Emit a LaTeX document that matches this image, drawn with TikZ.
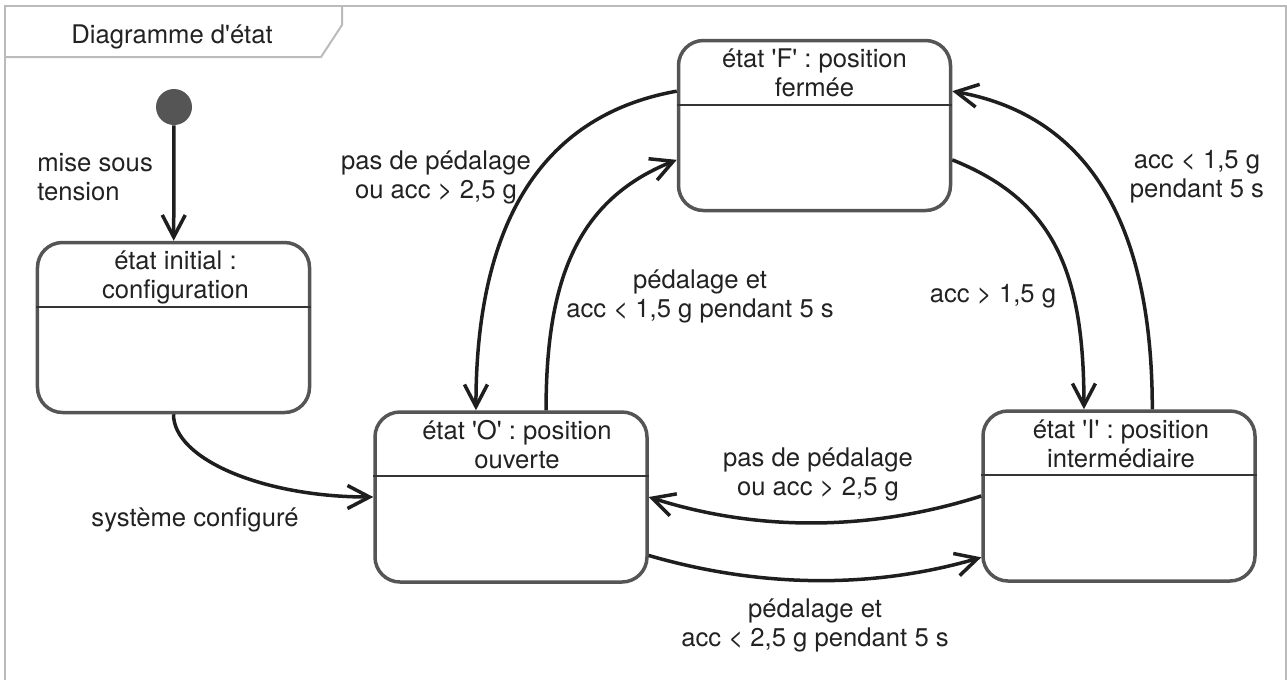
\documentclass[tikz,border=0pt]{standalone}
\usepackage{fontspec}
\setmainfont{TeX Gyre Heros}
\usepackage{tikz}
\usetikzlibrary{arrows.meta,calc}

\definecolor{bordgris}{HTML}{555555}
\definecolor{cadregris}{HTML}{BBBBBB}
\definecolor{trait}{HTML}{1E1E1E}
\definecolor{texte}{HTML}{222222}

\newcommand{\q}{\textquotesingle}

\begin{document}
\begin{tikzpicture}[x=0.2mm,y=-0.2mm,
    every node/.style={font=\fontsize{14.6}{16.5}\selectfont, text=texte},
    etat/.style={draw=bordgris, line width=0.7mm, rounded corners=5mm,
                 minimum width=54.4mm, minimum height=34mm, inner sep=0pt},
    titre/.style={anchor=north, align=center, inner sep=0pt},
    garde/.style={align=center, inner sep=0pt},
    separation/.style={draw=trait!90, line width=0.45mm},
    transition/.style={draw=trait, line width=0.7mm,
                       -{Straight Barb[length=4.4mm,width=4.6mm]}}]

            \useasboundingbox (0,0) rectangle (1287,680);

            % Frame and its tab
            \draw[cadregris, line width=0.4mm] (5,680) -- (5,6) -- (1286,6) -- (1286,680);
            \draw[cadregris, line width=0.4mm] (5,57) -- (321,57) -- (342,25) -- (342,6);
            \node (cadre-titre) at (172,37) {Diagramme d\q état};

            % States
            \node[etat] (init) at (173.5,327.5) {};
            \node[etat] (O) at (511,497) {};
            \node[etat] (I) at (1119,496) {};
            \node[etat] (F) at (814.5,125.5) {};

            % State names
            \node[titre] (init-titre) at ($(init.north)+(2,10)$) {état initial :\\configuration};
            \node[titre] (O-titre) at ($(O.north)+(6,10)$) {état \q O\q{} : position\\ouverte};
            \node[titre] (I-titre) at ($(I.north)+(2,10)$) {état \q I\q{} : position\\intermédiaire};
            \node[titre] (F-titre) at ($(F.north)+(0,10)$) {état \q F\q{} : position\\fermée};

            % Dividers
            \foreach \s in {init,O,I,F}
                \draw[separation] ($(\s.north west)+(0,66)$) -- ($(\s.north east)+(0,66)$);

            % Initial pseudo-state
            \node[circle, fill=bordgris, minimum size=7.2mm, inner sep=0pt] (depart) at (174,107) {};

            % Transitions
            \draw[transition] (depart) -- (init);
            \draw[transition] (init.south) .. controls +(0,45) and +(-110,0) .. (O.west);
            \draw[transition] (F.166) .. controls +(-140,25) and +(0,-180) .. (O.112);
            \draw[transition] (O.68) .. controls +(0,-130) and +(-100,40) .. (F.194);
            \draw[transition] (F.-14) .. controls +(100,40) and +(0,-140) .. (I.112);
            \draw[transition] (I.69) .. controls +(0,-180) and +(140,25) .. (F.14);
            \draw[transition] (I.west) .. controls +(-110,35) and +(110,35) .. (O.east);
            \draw[transition] (O.-23) .. controls +(110,32) and +(-110,32) .. (I.204);

            % Guards
            \node[anchor=west, align=left, inner sep=0pt] (g-mise) at (37,177) {mise sous\\tension};
            \node[garde] (g-sys) at (195,520) {système configuré};
            \node[garde] (g-fo) at (436,177) {pas de pédalage\\ou acc > 2,5 g};
            \node[garde] (g-of) at (700,296) {pédalage et\\acc < 1,5 g pendant 5 s};
            \node[garde] (g-fi) at (993,296) {acc > 1,5 g};
            \node[garde] (g-if) at (1197,177) {acc < 1,5 g\\pendant 5 s};
            \node[garde] (g-io) at (818,474) {pas de pédalage\\ou acc > 2,5 g};
            \node[garde] (g-oi) at (815,625) {pédalage et\\acc < 2,5 g pendant 5 s};

\end{tikzpicture}
\end{document}
